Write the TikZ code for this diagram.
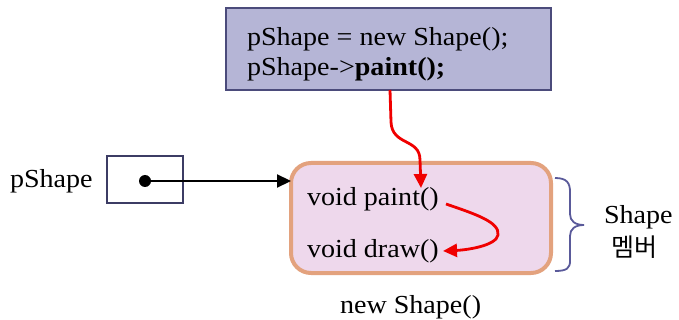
\documentclass[tikz,border=0pt]{standalone}
\usepackage{fontspec}
\setmainfont{Liberation Serif}[FakeStretch=1.08]
\newfontfamily\krfont{Noto Sans CJK KR}
\usetikzlibrary{arrows.meta}
\definecolor{topfill}{RGB}{181,181,214}
\definecolor{topdraw}{RGB}{75,75,123}
\definecolor{ptrdraw}{RGB}{60,60,100}
\definecolor{memfill}{RGB}{238,216,236}
\definecolor{memdraw}{RGB}{227,162,126}
\definecolor{bracecol}{RGB}{90,90,154}
\definecolor{arrred}{RGB}{240,0,0}
\begin{document}
\begin{tikzpicture}[x=1pt,y=-1pt,
  every node/.style={inner sep=0pt, outer sep=0pt},
  txt/.style={font=\fontsize{26}{30}\selectfont, anchor=base west},
  codebox/.style={draw=topdraw, fill=topfill, line width=2pt, minimum width=325pt, minimum height=82pt},
  ptrbox/.style={draw=ptrdraw, line width=2pt, minimum width=76pt, minimum height=47pt},
  membox/.style={draw=memdraw, fill=memfill, line width=4pt, rounded corners=20pt, minimum width=260pt, minimum height=110pt},
  redarrow/.style={draw=arrred, line width=2.8pt, -{Triangle[length=14pt,width=13pt]}},
  blackarrow/.style={draw=black, line width=2.2pt, -{Triangle[length=14pt,width=13pt]}},
  bracestyle/.style={draw=bracecol, line width=1.8pt}]
\useasboundingbox (0,0) rectangle (679,320);
% top code box
\node[codebox] (topbox) at (388.5,49) {};
\node[txt] (line1) at (247,46) {pShape = new Shape();};
\node[txt] (line2) at (247,76) {pShape->\textbf{paint();}};
% pointer
\node[txt] (plabel) at (10,188) {pShape};
\node[ptrbox] (ptr) at (144.5,180) {};
\node[circle, fill=black, minimum size=12pt] (dot) at (145,181) {};
% member box
\node[membox] (mem) at (421,218) {};
\node[txt] (paint) at (307,206) {void paint()};
\node[txt] (draw) at (307,257) {void draw()};
\node[txt] (newshape) at (340,313) {new Shape()};
% brace and labels
\node[txt] (shapelbl) at (604,223) {Shape};
\node[font=\krfont\fontsize{25}{28}\selectfont, anchor=base west] (member) at (611,256) {멤버};
\draw[bracestyle] (555,178) .. controls (567,178) and (570,183) .. (570,192) -- (570,214) .. controls (570,221) and (575,225) .. (584,225) .. controls (575,225) and (570,229) .. (570,236) -- (570,261) .. controls (570,268) and (567,271) .. (555,271);
% connectors
\coordinate (a1s) at (390,90);
\coordinate (a1e) at (421,188);
\coordinate (a2s) at (446,204);
\coordinate (a2e) at (443,251);
\draw[blackarrow] (dot.center) -- (mem.west |- dot.center);
\draw[redarrow] (a1s) -- (391,122) .. controls (392,146) and (420,138) .. (420,160) -- (a1e);
\draw[redarrow] (a2s) .. controls (475,214) and (500,222) .. (498,235) .. controls (496,246) and (466,250) .. (a2e);
\end{tikzpicture}
\end{document}
